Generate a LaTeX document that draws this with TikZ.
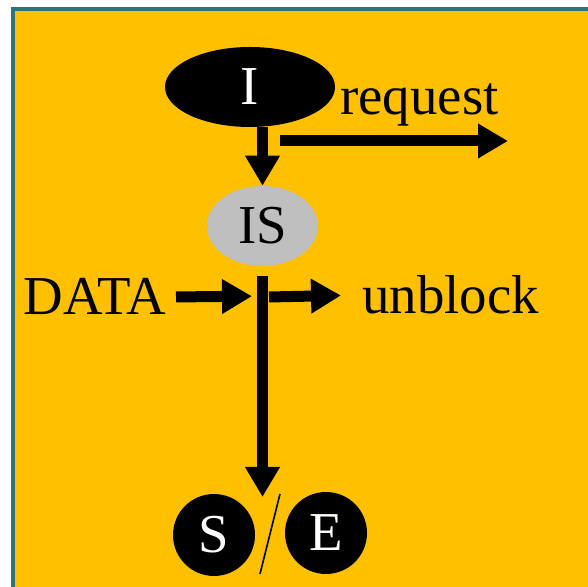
\documentclass[tikz,border=0pt]{standalone}
\usepackage{fontspec}
\setmainfont{Liberation Serif}
\usetikzlibrary{arrows.meta,shapes.geometric,calc}
\definecolor{sfondo}{HTML}{FFC000}
\definecolor{bordo}{HTML}{31707F}
\definecolor{grigio}{HTML}{BFBFBF}
\begin{document}
\begin{tikzpicture}[
        freccia/.style={line width=0.275cm, -{Triangle[length=0.75cm,width=0.82cm]}},
        stato/.style={ellipse, inner sep=0pt, minimum height=2cm},
        testo/.style={font=\fontsize{39}{46}\selectfont},
        etichetta/.style={testo, inner sep=0.25cm}
    ]
        % Sfondo e bordo
        \useasboundingbox (0,0) rectangle (14.7,14.675);
        \fill[sfondo] (0.325,0) rectangle (14.7,14.45);
        \draw[bordo, line width=0.1cm] (0.325,0) -- (0.325,14.45) -- (14.7,14.45);
        % Stati
        \node[stato, testo, fill=black, text=white, minimum width=4.25cm] (I) at (6.25,12.5) {I};
        \node[stato, testo, fill=grigio, minimum width=2.775cm] (IS) at (6.5625,9.025) {IS};
        \node[circle, testo, fill=black, text=white, inner sep=0pt, minimum size=2.05cm] (S) at (5.35,1.3) {S};
        \node[circle, testo, fill=black, text=white, inner sep=0pt, minimum size=2.05cm] (E) at (8.15,1.35) {E};
        % Etichette
        \node[etichetta, anchor=base west] (request) at (8.25,11.8) {request};
        \node[etichetta, anchor=base west] (unblock) at (8.8,6.825) {unblock};
        \node[etichetta, anchor=base east] (DATA) at (4.4,6.8) {DATA};
        % Punti liberi delle frecce
        \coordinate (reqA) at (7.0,11.15);
        \coordinate (reqB) at (12.7,11.15);
        \coordinate (dati) at (6.3,7.27);
        \coordinate (sblocco) at (6.725,7.25);
        \coordinate (fine) at (6.55,2.25);
        % Frecce
        \draw[freccia] (IS.north |- I.south) -- (IS.north);
        \draw[freccia] (reqA) -- (reqB);
        \draw[freccia] (DATA.east) -- (dati);
        \draw[freccia, shorten >=0.275cm] (sblocco) -- (unblock.west);
        \draw[freccia, shorten <=0.25cm] (IS.south) -- (IS.south |- fine);
        % Barra tra S ed E
        \draw[line width=0.04cm] ($(S)!0.5!(E)+(0.25,1)$) -- ($(S)!0.5!(E)-(0.25,1)$);
\end{tikzpicture}
\end{document}
